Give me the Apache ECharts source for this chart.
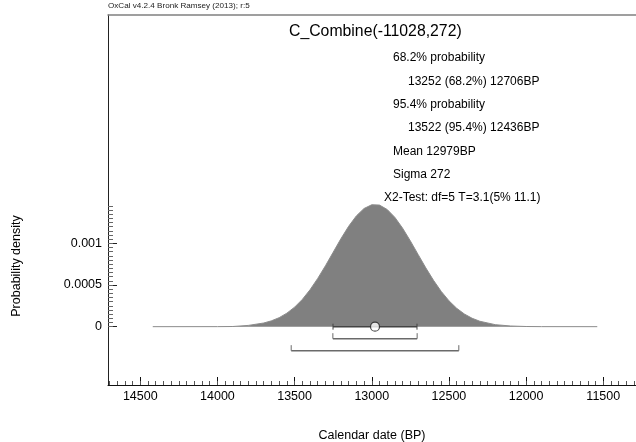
<!DOCTYPE html>
<html>
<head>
<meta charset="utf-8">
<script src="https://cdn.jsdelivr.net/npm/echarts@6/dist/echarts.min.js"></script>
<style>html,body{margin:0;padding:0;background:#fff;}#c{width:636px;height:442px;}</style>
</head>
<body>
<div id="c"></div>
<script>
// ---- data ----
const years = [14419, 14000, 13900, 13800, 13700, 13650, 13600, 13550, 13500, 13450, 13400, 13350, 13300, 13250, 13200, 13150, 13100, 13050, 13000, 12950, 12900, 12850, 12800, 12750, 12700, 12650, 12600, 12550, 12500, 12450, 12400, 12350, 12300, 12200, 12100, 12000, 11900, 11539];
const density = [0, 0.0000005, 0.000002, 0.000015, 0.000044, 0.00007, 0.000108, 0.000162, 0.000234, 0.000327, 0.000443, 0.000579, 0.000731, 0.000893, 0.001055, 0.001204, 0.001329, 0.001418, 0.001463, 0.001459, 0.001406, 0.001311, 0.001181, 0.001029, 0.000867, 0.000706, 0.000556, 0.000423, 0.000311, 0.000221, 0.000152, 0.000101, 0.000065, 0.000024, 0.000008, 0.000002, 0.0000005, 0];
const meanBP = 12979;
const sigmaBP = 272;
const range68 = [13252, 12706];
const range95 = [13522, 12436];
const xTickLabels = [11500, 12000, 12500, 13000, 13500, 14000, 14500];
const yTickLabels = [0, 0.0005, 0.001];
const yTickText = ['0', '0.0005', '0.001'];
const headerText = 'OxCal v4.2.4 Bronk Ramsey (2013); r:5';
const titleText = 'C_Combine(-11028,272)';
const infoLines = [
  '68.2% probability',
  '13252 (68.2%) 12706BP',
  '95.4% probability',
  '13522 (95.4%) 12436BP',
  'Mean 12979BP',
  'Sigma 272',
  'X2-Test: df=5 T=3.1(5% 11.1)'
];
const xName = 'Calendar date (BP)';
const yName = 'Probability density';

// ---- minor tick positions ----
const xMinor = [];
for (let v = 11300; v <= 14700; v += 50) xMinor.push(v);
const yMinor = [];
for (let i = 0; i <= 29; i++) yMinor.push(+(i * 0.00005).toFixed(5));

const FONT = '"Liberation Sans", Arial, Helvetica, sans-serif';
const chart = echarts.init(document.getElementById('c'), null, {renderer: 'canvas'});

const curve = years.map((y, i) => [y, density[i]]);
// [from, to, level]
const brackets = [
  [meanBP + sigmaBP, meanBP - sigmaBP, 0],
  [range68[0], range68[1], 1],
  [range95[0], range95[1], 2]
];

const XMIN = 11288, XMAX = 14709, YMIN = -0.0007, YMAX = 0.00374;

const infoX = [393, 408, 393, 408, 393, 393, 384];
const infoY = [58, 81.5, 104.5, 128, 151.5, 174.5, 197.5];
const graphics = [
  {type: 'text', x: 108, y: 6, style: {text: headerText, font: '8.1px ' + FONT, fill: '#222', verticalAlign: 'middle'}},
  {type: 'text', x: 289, y: 32, style: {text: titleText, font: '15.8px ' + FONT, fill: '#000', verticalAlign: 'middle'}},
  {type: 'text', x: 17, y: 266, rotation: Math.PI / 2, style: {text: yName, font: '12.5px ' + FONT, fill: '#000', align: 'center', verticalAlign: 'middle'}}
];
infoLines.forEach((t, i) => {
  graphics.push({type: 'text', x: infoX[i], y: infoY[i], style: {text: t, font: '12px ' + FONT, fill: '#000', verticalAlign: 'middle'}});
});

chart.setOption({
  animation: false,
  backgroundColor: '#fff',
  grid: {left: 108, right: 0, top: 15, bottom: 57, outerBoundsMode: 'none', containLabel: false},
  xAxis: [
    {
      type: 'value', min: XMIN, max: XMAX, inverse: true, position: 'bottom',
      splitLine: {show: false},
      axisLine: {show: true, onZero: false, lineStyle: {color: '#111', width: 1}},
      axisTick: {show: true, inside: true, length: 8, customValues: xTickLabels, lineStyle: {color: '#111'}},
      axisLabel: {show: true, customValues: xTickLabels, margin: 5, fontSize: 12.5, fontFamily: FONT, color: '#000',
        formatter: (v) => String(Math.round(v))},
      name: xName, nameLocation: 'middle', nameGap: 44,
      nameTextStyle: {fontSize: 12.5, fontFamily: FONT, color: '#000'}
    },
    {
      type: 'value', min: XMIN, max: XMAX, inverse: true, position: 'bottom', offset: 0,
      splitLine: {show: false}, axisLine: {show: false, onZero: false}, axisLabel: {show: false},
      axisTick: {show: true, inside: true, length: 4, customValues: xMinor, lineStyle: {color: '#555'}}
    },
    {
      type: 'value', min: XMIN, max: XMAX, inverse: true, position: 'top',
      splitLine: {show: false}, axisTick: {show: false}, axisLabel: {show: false},
      axisLine: {show: true, onZero: false, lineStyle: {color: '#808080', width: 1.5}}
    }
  ],
  yAxis: [
    {
      type: 'value', min: YMIN, max: YMAX, position: 'left',
      splitLine: {show: false},
      axisLine: {show: true, onZero: false, lineStyle: {color: '#222', width: 1}},
      axisTick: {show: true, inside: true, length: 9, customValues: yTickLabels, lineStyle: {color: '#222'}},
      axisLabel: {show: true, customValues: yTickLabels, margin: 6, fontSize: 12.5, fontFamily: FONT, color: '#000',
        formatter: (v) => { const i = yTickLabels.findIndex(t => Math.abs(t - v) < 1e-9); return i >= 0 ? yTickText[i] : ''; }}
    },
    {
      type: 'value', min: YMIN, max: YMAX, position: 'left', offset: 0,
      splitLine: {show: false}, axisLine: {show: false, onZero: false}, axisLabel: {show: false},
      axisTick: {show: true, inside: true, length: 5, customValues: yMinor, lineStyle: {color: '#666'}}
    }
  ],
  graphic: graphics,
  series: [
    {
      type: 'line', data: curve, xAxisIndex: 0, yAxisIndex: 0,
      showSymbol: false, symbol: 'none', smooth: false,
      lineStyle: {color: '#8c8c8c', width: 1},
      areaStyle: {color: '#808080', opacity: 1},
      z: 2
    },
    {
      type: 'custom', xAxisIndex: 0, yAxisIndex: 0, data: brackets, z: 3,
      renderItem: function (params, api) {
        const a = api.coord([api.value(0), 0]);
        const b = api.coord([api.value(1), 0]);
        const lvl = api.value(2);
        const children = [];
        if (lvl === 0) {
          const y = a[1];
          const st = {stroke: '#444', lineWidth: 1.5};
          children.push({type: 'line', shape: {x1: a[0], y1: y, x2: b[0], y2: y}, style: st});
          children.push({type: 'line', shape: {x1: a[0], y1: y - 3, x2: a[0], y2: y + 3}, style: {stroke: '#444', lineWidth: 1}});
          children.push({type: 'line', shape: {x1: b[0], y1: y - 3, x2: b[0], y2: y + 3}, style: {stroke: '#444', lineWidth: 1}});
        } else {
          const y = a[1] + lvl * 12;
          const st = {stroke: '#6a6a6a', lineWidth: 1.5};
          children.push({type: 'line', shape: {x1: a[0], y1: y, x2: b[0], y2: y}, style: st});
          children.push({type: 'line', shape: {x1: a[0], y1: y - 5.5, x2: a[0], y2: y}, style: {stroke: '#6a6a6a', lineWidth: 1}});
          children.push({type: 'line', shape: {x1: b[0], y1: y - 5.5, x2: b[0], y2: y}, style: {stroke: '#6a6a6a', lineWidth: 1}});
        }
        return {type: 'group', children: children};
      }
    },
    {
      type: 'scatter', xAxisIndex: 0, yAxisIndex: 0, data: [[meanBP, 0]], z: 4,
      symbol: 'circle', symbolSize: 9,
      itemStyle: {color: '#fff', borderColor: '#222', borderWidth: 1.2}
    }
  ]
});
</script>
</body>
</html>
